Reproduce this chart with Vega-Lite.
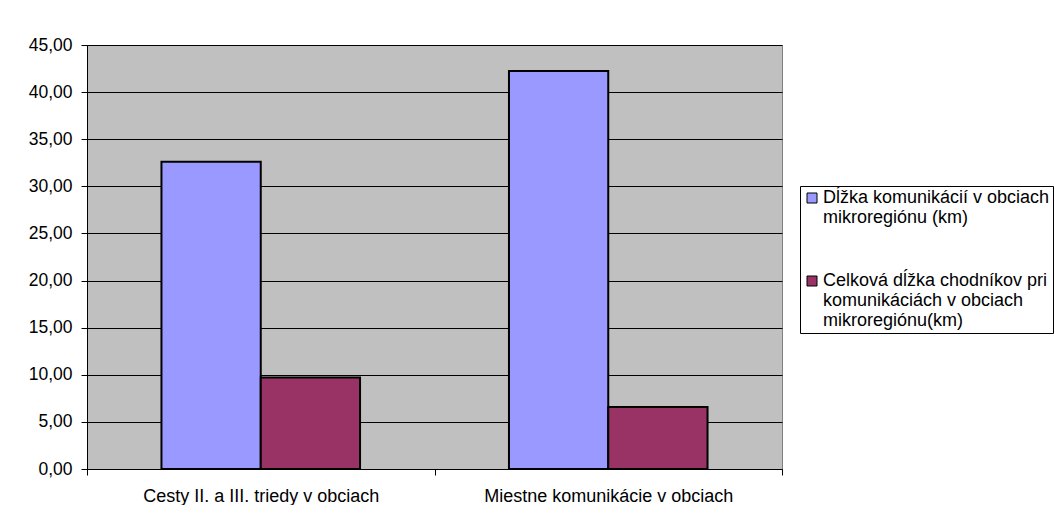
{
  "$schema": "https://vega.github.io/schema/vega-lite/v6.json",
  "width": 695,
  "height": 424,
  "padding": {"left": 28, "top": 36, "right": 0, "bottom": 0},
  "background": "white",
  "data": {
    "values": [
      {"kategoria": "Cesty II. a III. triedy v obciach", "seria": "Dĺžka komunikácií v obciach mikroregiónu (km)", "hodnota": 32.62},
      {"kategoria": "Cesty II. a III. triedy v obciach", "seria": "Celková dĺžka chodníkov pri komunikáciách v obciach mikroregiónu(km)", "hodnota": 9.72},
      {"kategoria": "Miestne komunikácie v obciach", "seria": "Dĺžka komunikácií v obciach mikroregiónu (km)", "hodnota": 42.23},
      {"kategoria": "Miestne komunikácie v obciach", "seria": "Celková dĺžka chodníkov pri komunikáciách v obciach mikroregiónu(km)", "hodnota": 6.57}
    ]
  },
  "mark": {"type": "bar", "stroke": "black", "strokeWidth": 2},
  "encoding": {
    "x": {
      "field": "kategoria",
      "type": "nominal",
      "sort": null,
      "scale": {"paddingInner": 0, "paddingOuter": 0},
      "axis": {
        "title": null,
        "labelAngle": 0,
        "labelFont": "Liberation Sans",
        "labelFontSize": 18,
        "labelColor": "black",
        "labelPadding": 12,
        "tickBand": "extent",
        "tickColor": "black",
        "tickSize": 6,
        "domainColor": "black",
        "labelLimit": 400
      }
    },
    "xOffset": {
      "field": "seria",
      "type": "nominal",
      "scale": {"paddingInner": 0, "paddingOuter": 0.75, "domain": ["Dĺžka komunikácií v obciach mikroregiónu (km)", "Celková dĺžka chodníkov pri komunikáciách v obciach mikroregiónu(km)"]}
    },
    "y": {
      "field": "hodnota",
      "type": "quantitative",
      "scale": {"domain": [0, 45], "nice": false},
      "axis": {
        "title": null,
        "values": [0, 5, 10, 15, 20, 25, 30, 35, 40, 45],
        "labelExpr": "replace(format(datum.value, '.2f'), '.', ',')",
        "labelFont": "Liberation Sans",
        "labelFontSize": 17.5,
        "labelColor": "black",
        "labelPadding": 9,
        "tickColor": "black",
        "tickSize": 6,
        "domainColor": "black",
        "gridColor": "black",
        "gridOpacity": 1,
        "gridWidth": 1
      }
    },
    "color": {
      "field": "seria",
      "type": "nominal",
      "scale": {
        "domain": ["Dĺžka komunikácií v obciach mikroregiónu (km)", "Celková dĺžka chodníkov pri komunikáciách v obciach mikroregiónu(km)"],
        "range": ["#9999ff", "#993366"]
      },
      "legend": {
        "title": null,
        "orient": "none",
        "legendX": 713,
        "legendY": 141,
        "padding": 3,
        "strokeColor": "black",
        "fillColor": "white",
        "symbolType": "square",
        "symbolSize": 100,
        "symbolStrokeColor": "black",
        "symbolStrokeWidth": 1,
        "symbolOpacity": 1,
        "labelFont": "Liberation Sans",
        "labelFontSize": 18,
        "labelColor": "black",
        "labelOffset": 2,
        "labelLimit": 400,
        "rowPadding": 45,
        "labelExpr": "indexof(datum.label, 'Dĺžka') == 0 ? ['Dĺžka komunikácií v obciach', 'mikroregiónu (km)'] : ['Celková dĺžka chodníkov pri', 'komunikáciách v obciach', 'mikroregiónu(km)']",
        "encoding": {"labels": {"update": {"lineHeight": {"value": 18}}}}
      }
    }
  },
  "config": {
    "view": {"fill": "#c0c0c0", "stroke": "#808080", "strokeWidth": 1},
    "axis": {"grid": true, "domainWidth": 1, "tickWidth": 1},
    "axisX": {"grid": false}
  }
}
